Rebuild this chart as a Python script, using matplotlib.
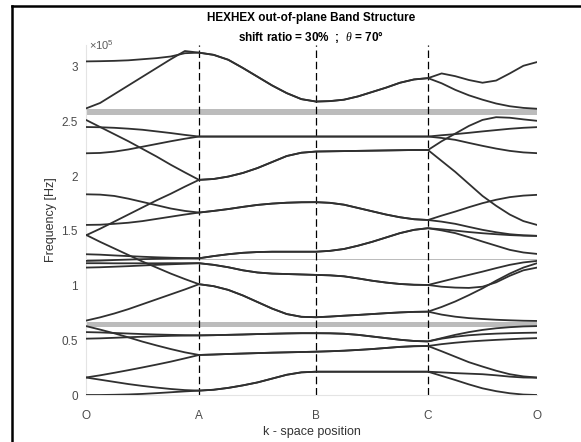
import matplotlib
matplotlib.use("Agg")
import matplotlib.pyplot as plt
import numpy as np

plt.rcParams.update({
    'font.family': ['Liberation Sans', 'DejaVu Sans'],
    'font.size': 8.5,
    'mathtext.fontset': 'custom',
    'mathtext.it': 'Liberation Serif:italic',
    'mathtext.rm': 'Liberation Sans',
})

# k-path: high symmetry points (cumulative path length) and their labels
k_ticks = [0, 113, 230, 342, 451]
k_labels = ["O", "A", "B", "C", "O"]

# frequencies in x1e5 Hz, 9 samples per segment (end points shared)
# O -> A, one row per band
seg_OA = [
    [3.05, 3.052, 3.055, 3.06, 3.07, 3.08, 3.095, 3.125, 3.13],
    [2.62, 2.67, 2.75, 2.83, 2.91, 2.99, 3.07, 3.145, 3.13],
    [2.45, 2.448, 2.443, 2.435, 2.425, 2.41, 2.395, 2.378, 2.363],
    [2.21, 2.213, 2.225, 2.245, 2.27, 2.295, 2.32, 2.343, 2.363],
    [2.515, 2.45, 2.385, 2.32, 2.25, 2.18, 2.105, 2.035, 1.967],
    [1.46, 1.52, 1.585, 1.65, 1.715, 1.78, 1.84, 1.905, 1.967],
    [1.835, 1.832, 1.82, 1.795, 1.765, 1.735, 1.705, 1.683, 1.668],
    [1.555, 1.557, 1.565, 1.575, 1.59, 1.61, 1.63, 1.65, 1.668],
    [1.287, 1.283, 1.276, 1.27, 1.264, 1.259, 1.255, 1.252, 1.25],
    [1.226, 1.229, 1.234, 1.238, 1.242, 1.245, 1.247, 1.249, 1.25],
    [1.205, 1.205, 1.204, 1.204, 1.204, 1.204, 1.205, 1.205, 1.205],
    [1.165, 1.168, 1.173, 1.178, 1.184, 1.19, 1.195, 1.2, 1.205],
    [1.464, 1.40, 1.34, 1.28, 1.22, 1.165, 1.11, 1.06, 1.013],
    [0.68, 0.71, 0.745, 0.785, 0.83, 0.875, 0.92, 0.965, 1.013],
    [0.575, 0.572, 0.567, 0.562, 0.557, 0.553, 0.55, 0.547, 0.545],
    [0.515, 0.518, 0.523, 0.528, 0.533, 0.537, 0.541, 0.543, 0.545],
    [0.63, 0.598, 0.564, 0.527, 0.488, 0.453, 0.42, 0.39, 0.366],
    [0.16, 0.18, 0.203, 0.227, 0.252, 0.278, 0.305, 0.335, 0.366],
    [0.16, 0.14, 0.12, 0.10, 0.083, 0.068, 0.055, 0.045, 0.04],
    [0.0, 0.0, 0.002, 0.005, 0.01, 0.017, 0.025, 0.033, 0.04],
]

# A -> B -> C, degenerate pairs (17 values each)
seg_ABC = [
    [3.13, 3.11, 3.065, 2.99, 2.91, 2.83, 2.76, 2.705, 2.683,
     2.687, 2.70, 2.73, 2.77, 2.81, 2.855, 2.885, 2.897],
    [2.363, 2.363, 2.363, 2.363, 2.363, 2.363, 2.363, 2.363, 2.363,
     2.363, 2.363, 2.363, 2.363, 2.363, 2.363, 2.363, 2.363],
    [1.967, 1.975, 1.997, 2.03, 2.075, 2.13, 2.185, 2.215, 2.226,
     2.228, 2.23, 2.232, 2.234, 2.236, 2.238, 2.24, 2.24],
    [1.668, 1.683, 1.70, 1.72, 1.738, 1.75, 1.758, 1.762, 1.763,
     1.757, 1.74, 1.71, 1.68, 1.65, 1.625, 1.607, 1.60],
    [1.25, 1.27, 1.287, 1.30, 1.307, 1.31, 1.31, 1.31, 1.31,
     1.318, 1.335, 1.365, 1.40, 1.44, 1.48, 1.51, 1.525],
    [1.205, 1.19, 1.168, 1.14, 1.12, 1.11, 1.106, 1.102, 1.098,
     1.094, 1.085, 1.066, 1.045, 1.028, 1.015, 1.008, 1.006],
    [1.013, 0.995, 0.961, 0.91, 0.85, 0.79, 0.74, 0.715, 0.711,
     0.717, 0.725, 0.732, 0.74, 0.748, 0.755, 0.76, 0.762],
    [0.545, 0.547, 0.55, 0.553, 0.557, 0.56, 0.563, 0.565, 0.565,
     0.564, 0.56, 0.55, 0.535, 0.52, 0.505, 0.494, 0.49],
    [0.366, 0.37, 0.375, 0.379, 0.383, 0.387, 0.39, 0.393, 0.396,
     0.40, 0.405, 0.412, 0.42, 0.43, 0.44, 0.446, 0.448],
    [0.04, 0.048, 0.065, 0.088, 0.115, 0.15, 0.185, 0.207, 0.213,
     0.213, 0.213, 0.213, 0.213, 0.213, 0.213, 0.213, 0.213],
]

# C -> O, one row per band
seg_CO = [
    [2.897, 2.94, 2.915, 2.88, 2.855, 2.875, 2.94, 3.01, 3.044],
    [2.897, 2.85, 2.79, 2.74, 2.70, 2.665, 2.64, 2.625, 2.617],
    [2.363, 2.375, 2.385, 2.397, 2.41, 2.422, 2.434, 2.443, 2.449],
    [2.363, 2.35, 2.333, 2.305, 2.278, 2.253, 2.232, 2.218, 2.211],
    [2.24, 2.32, 2.39, 2.46, 2.515, 2.54, 2.535, 2.52, 2.507],
    [2.24, 2.14, 2.04, 1.93, 1.82, 1.73, 1.65, 1.59, 1.555],
    [1.60, 1.64, 1.677, 1.717, 1.754, 1.785, 1.809, 1.823, 1.83],
    [1.60, 1.585, 1.565, 1.537, 1.51, 1.488, 1.47, 1.46, 1.455],
    [1.525, 1.515, 1.503, 1.49, 1.479, 1.47, 1.462, 1.457, 1.455],
    [1.525, 1.505, 1.48, 1.443, 1.403, 1.365, 1.327, 1.303, 1.29],
    [1.006, 1.037, 1.068, 1.098, 1.128, 1.16, 1.19, 1.212, 1.226],
    [1.006, 0.99, 0.982, 0.979, 0.99, 1.03, 1.09, 1.14, 1.165],
    [0.762, 0.805, 0.855, 0.913, 0.975, 1.045, 1.11, 1.165, 1.205],
    [0.762, 0.735, 0.716, 0.703, 0.695, 0.688, 0.683, 0.679, 0.677],
    [0.49, 0.52, 0.55, 0.575, 0.595, 0.61, 0.62, 0.627, 0.63],
    [0.49, 0.515, 0.533, 0.546, 0.555, 0.561, 0.565, 0.568, 0.57],
    [0.448, 0.465, 0.478, 0.489, 0.497, 0.504, 0.51, 0.516, 0.52],
    [0.448, 0.40, 0.35, 0.30, 0.26, 0.222, 0.19, 0.17, 0.16],
    [0.213, 0.207, 0.20, 0.195, 0.19, 0.18, 0.168, 0.16, 0.158],
    [0.213, 0.175, 0.137, 0.097, 0.061, 0.035, 0.016, 0.004, 0.0],
]

# which A-B-C pair each band follows
pair_of = [0, 0, 1, 1, 2, 2, 3, 3, 4, 4, 5, 5, 6, 6, 7, 7, 8, 8, 9, 9]

# band gaps [x1e5 Hz]
gap_lo = [0.625, 1.236, 2.556]
gap_hi = [0.672, 1.245, 2.615]

# sample positions along the path
k = np.concatenate([np.linspace(k_ticks[i], k_ticks[i + 1], 9)[(1 if i else 0):] for i in range(4)])

fig = plt.figure(figsize=(5.81, 4.42), dpi=100)
ax = fig.add_axes([86 / 581, 1 - 395 / 442, (537 - 86) / 581, (395 - 45) / 442])

for lo, hi in zip(gap_lo, gap_hi):
    ax.axhspan(lo, hi, color="#bcbcbc", lw=0, zorder=1)

for xv in k_ticks[1:4]:
    ax.axvline(xv, color="black", lw=0.9, linestyle=(0, (6, 3)), zorder=2)

for i, oa in enumerate(seg_OA):
    freq = oa + seg_ABC[pair_of[i]][1:] + seg_CO[i][1:]
    ax.plot(k, freq, color="#303030", lw=1.3, solid_joinstyle="round", solid_capstyle="round", zorder=3)

ax.set_xlim(k_ticks[0], k_ticks[-1])
ax.set_ylim(0, 3.2)
ax.set_xticks(k_ticks)
ax.set_xticklabels(k_labels)
ax.set_yticks([0, 0.5, 1, 1.5, 2, 2.5, 3])
ax.set_yticklabels(["0", "0.5", "1", "1.5", "2", "2.5", "3"])
ax.tick_params(colors="#4a4a4a", length=0, labelsize=8.5)
ax.tick_params(axis="y", pad=6)
ax.tick_params(axis="x", pad=11)
for side in ["top", "right"]:
    ax.spines[side].set_visible(False)
for side in ["left", "bottom"]:
    ax.spines[side].set_color("#e4e4e4")
    ax.spines[side].set_linewidth(0.8)

ax.set_xlabel("k - space position", color="#333333", fontsize=9, labelpad=3)
ax.set_ylabel("Frequency [Hz]", color="#333333", fontsize=9, labelpad=3)
fig.text(89 / 581, 1 - 45 / 442, r"$\times10^5$", color="#5a5a5a", fontsize=8, ha="left", va="center")

fig.text(311 / 581, 1 - 18 / 442, "HEXHEX out-of-plane Band Structure",
         fontsize=8.5, fontweight="bold", ha="center", va="center")
fig.text(311 / 581, 1 - 37 / 442, r"shift ratio = 30%  ;  $\it{\theta}$ = 70°",
         fontsize=8.5, fontweight="bold", ha="center", va="center")

# figure frame (left and top edges)
fig.add_artist(plt.Line2D([12 / 581, 12 / 581], [0, 1 - 6 / 442], color="black", lw=1.8, transform=fig.transFigure))
fig.add_artist(plt.Line2D([12 / 581, 1], [1 - 6 / 442, 1 - 6 / 442], color="black", lw=1.8, transform=fig.transFigure))

fig.savefig("out.png", dpi=100)
